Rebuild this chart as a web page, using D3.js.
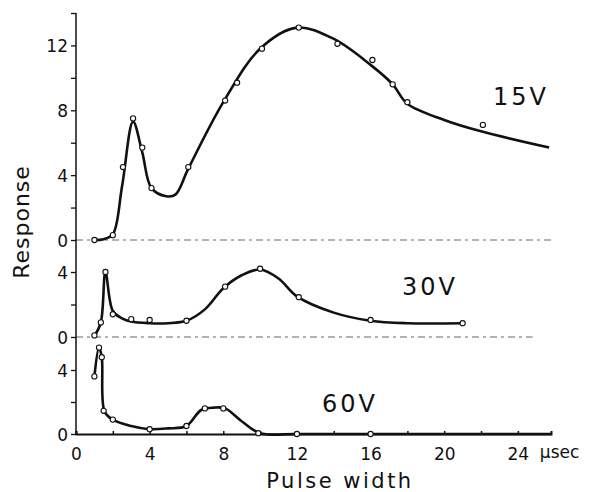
<!DOCTYPE html>
<html>
<head>
<meta charset="utf-8">
<script src="https://cdn.jsdelivr.net/npm/d3@7"></script>
<style>
  body { margin: 0; background: #fff; }
  svg text { font-family: "DejaVu Sans", sans-serif; fill: #111; }
</style>
</head>
<body>
<div id="chart"></div>
<script>
var pulse15 = [1, 2, 2.55, 3.1, 3.6, 4.1, 6.1, 8.1, 8.75, 10.1, 12.1, 14.2, 16.1, 17.2, 18, 22.1];
var resp15  = [0, 0.3, 4.5, 7.5, 5.7, 3.2, 4.5, 8.6, 9.7, 11.8, 13.1, 12.1, 11.1, 9.6, 8.5, 7.1];
var pulse30 = [1, 1.35, 1.6, 2, 3, 4, 6, 8.1, 10, 12.1, 16, 21];
var resp30  = [0.1, 0.9, 4.0, 1.4, 1.1, 1.05, 1.0, 3.1, 4.2, 2.45, 1.05, 0.85];
var pulse60 = [1, 1.25, 1.4, 1.5, 2, 4, 6, 7, 8, 9.9, 12, 16];
var resp60  = [3.6, 5.4, 4.8, 1.45, 0.9, 0.3, 0.5, 1.6, 1.6, 0.05, 0, 0];

// hand drawn curves, knots
var fit15X = [1, 1.5, 2, 2.5, 3.1, 3.6, 4.1, 4.9, 5.4, 6.1, 8, 10, 12, 14, 16, 17.2, 18, 20, 22, 25.7];
var fit15Y = [0, 0.05, 0.35, 3.3, 7.3, 5.4, 3.2, 2.7, 2.8, 4.4, 8.5, 11.8, 13.1, 12.4, 10.8, 9.6, 8.4, 7.4, 6.7, 5.7];
var fit30X = [1, 1.35, 1.6, 2, 2.5, 3, 4, 5, 6, 7, 8, 9, 10, 11, 12, 14, 16, 18, 21];
var fit30Y = [0.05, 0.9, 4.0, 1.6, 1.15, 0.95, 0.85, 0.85, 1.0, 1.7, 3.0, 3.8, 4.15, 3.6, 2.5, 1.5, 1.0, 0.85, 0.85];
var fit60X = [1, 1.25, 1.4, 1.55, 2, 3, 4, 5, 6, 6.8, 7.5, 8.1, 9, 10, 12, 16, 25.8];
var fit60Y = [3.6, 5.4, 4.8, 1.4, 0.9, 0.5, 0.3, 0.35, 0.5, 1.5, 1.65, 1.6, 0.8, 0.05, 0, 0, 0];

var xTicks = [0, 2, 4, 6, 8, 10, 12, 14, 16, 18, 20, 22, 24];
var topTicks = [0, 2, 4, 6, 8, 10, 12, 14];
var subTicks = [0, 2, 4];

var W = 590, H = 492;
var svg = d3.select("#chart").append("svg").attr("width", W).attr("height", H);

var x = d3.scaleLinear().domain([0, 25.8]).range([76, 551]);
var yTop = d3.scaleLinear().domain([0, 14]).range([240, 13]);
var yMid = d3.scaleLinear().domain([0, 4]).range([337, 272]);
var yBot = d3.scaleLinear().domain([0, 4]).range([434, 370]);

function zip(xs, ys){ return xs.map(function(v, i){ return [v, ys[i]]; }); }

// zero base lines of the upper panels
function dashedZero(y, xEnd){
	svg.append("line")
		.attr("x1", x(0)).attr("x2", x(xEnd))
		.attr("y1", y(0)).attr("y2", y(0))
		.attr("stroke", "#666").attr("stroke-width", 1)
		.attr("stroke-dasharray", "7,4,3,4");
}
dashedZero(yTop, 25.8);
dashedZero(yMid, 24.8);

// y axes, one per panel
function leftAxis(y, ticks){
	var g = svg.append("g").attr("transform", "translate(" + x(0) + ",0)")
		.call(d3.axisLeft(y).tickValues(ticks).tickSize(5).tickPadding(3)
			.tickFormat(function(d){ return d % 4 == 0 ? d : ""; }));
	g.select(".domain").remove();
	g.selectAll("line").attr("stroke", "#111").attr("stroke-width", 1.3);
	g.selectAll("text").style("font-size", "17px").attr("dy", "0.36em");
}
leftAxis(yTop, topTicks);
leftAxis(yMid, subTicks);
leftAxis(yBot, subTicks);

svg.append("line")
	.attr("x1", x(0)).attr("x2", x(0))
	.attr("y1", yTop(14)).attr("y2", yBot(0))
	.attr("stroke", "#111").attr("stroke-width", 1.5);

// x axis
var gx = svg.append("g").attr("transform", "translate(0," + yBot(0) + ")")
	.call(d3.axisBottom(x).tickValues(xTicks).tickSize(-3).tickPadding(14)
		.tickFormat(function(d){ return d % 4 == 0 ? d : ""; }));
gx.select(".domain").attr("stroke", "#111").attr("stroke-width", 2);
gx.selectAll("line").attr("stroke", "#111").attr("stroke-width", 1.5);
gx.selectAll("text").style("font-size", "17px");

svg.append("text")
	.attr("x", x(24) + 22).attr("y", yBot(0) + 24)
	.style("font-size", "17px")
	.text("μsec");

// curves and points
var line = function(y){
	return d3.line()
		.x(function(d){ return x(d[0]); })
		.y(function(d){ return y(d[1]); })
		.curve(d3.curveCatmullRom.alpha(0.5));
};

function drawSeries(y, fx, fy, px, py){
	svg.append("path")
		.datum(zip(fx, fy))
		.attr("d", line(y))
		.attr("fill", "none")
		.attr("stroke", "#111")
		.attr("stroke-width", 2.6)
		.attr("stroke-linejoin", "round");

	svg.append("g").selectAll("circle")
		.data(zip(px, py))
		.enter()
		.append("circle")
		.attr("cx", function(d){ return x(d[0]); })
		.attr("cy", function(d){ return y(d[1]); })
		.attr("r", 2.6)
		.attr("fill", "#fff")
		.attr("stroke", "#111")
		.attr("stroke-width", 1.1);
}
drawSeries(yTop, fit15X, fit15Y, pulse15, resp15);
drawSeries(yMid, fit30X, fit30Y, pulse30, resp30);
drawSeries(yBot, fit60X, fit60Y, pulse60, resp60);

// series labels
function seriesLabel(txt, px, py){
	svg.append("text")
		.attr("x", px).attr("y", py)
		.style("font-size", "24px")
		.style("letter-spacing", "3px")
		.text(txt);
}
seriesLabel("15V", 493, 105);
seriesLabel("30V", 402, 295);
seriesLabel("60V", 322, 412);

// axis titles
svg.append("text")
	.attr("transform", "translate(29,222) rotate(-90)")
	.attr("text-anchor", "middle")
	.style("font-size", "22px")
	.style("letter-spacing", "1px")
	.text("Response");

svg.append("text")
	.attr("x", 340).attr("y", 488)
	.attr("text-anchor", "middle")
	.style("font-size", "21px")
	.style("letter-spacing", "2.5px")
	.text("Pulse width");
</script>
</body>
</html>
